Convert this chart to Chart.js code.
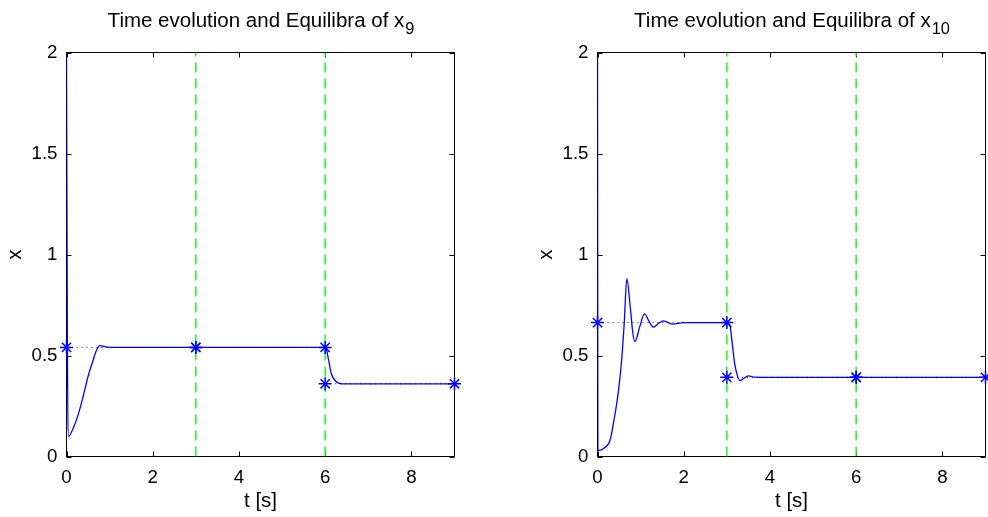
<!DOCTYPE html>
<html>
<head>
<meta charset="utf-8">
<script src="https://cdn.jsdelivr.net/npm/chart.js@4.4.0/dist/chart.umd.min.js"></script>
<style>
  html, body { margin: 0; padding: 0; background: #fff; overflow: hidden; }
  #wrap { position: relative; width: 988px; height: 517px; overflow: hidden; }
  canvas { position: absolute; top: 0; }
</style>
</head>
<body>
<div id="wrap">
  <canvas id="c9" width="531" height="517" style="left:0px"></canvas>
  <canvas id="c10" width="531" height="517" style="left:531px"></canvas>
</div>
<script>
// axis ticks
const xTicks = [0, 2, 4, 6, 8];
const yTicks = [0, 0.5, 1, 1.5, 2];

// switching instants and equilibrium segments
const switchTimes = [3, 6];
const segStart = [0, 3, 6];
const segEnd = [3, 6, 9];
const eqX9 = [0.54, 0.54, 0.36];
const eqX10 = [0.663, 0.392, 0.392];

// trajectories
const tX9 = [0, 0.02, 0.05, 0.155, 0.27, 0.386, 0.5, 0.62, 0.70, 0.775, 0.89, 1.05, 2, 3, 4, 5, 6,
             6.02, 6.08, 6.14, 6.24, 6.40, 7, 8, 9];
const vX9 = [2.0, 0.6, 0.10, 0.14, 0.206, 0.297, 0.396, 0.478, 0.528, 0.549, 0.544, 0.54, 0.54, 0.54, 0.54, 0.54, 0.54,
             0.536, 0.478, 0.412, 0.374, 0.36, 0.36, 0.36, 0.36];

const tX10 = [0, 0.01, 0.14, 0.295, 0.37, 0.49, 0.567, 0.62, 0.68, 0.76, 0.82, 0.87, 0.98, 1.09, 1.21, 1.30,
              1.42, 1.53, 1.75, 2.0, 2.5, 3.0, 3.07, 3.125, 3.18, 3.24, 3.30, 3.40, 3.51, 3.63, 4, 5, 6, 7, 8, 9];
const vX10 = [2.0, 0.03, 0.04, 0.083, 0.165, 0.33, 0.495, 0.66, 0.88, 0.74, 0.61, 0.569, 0.643, 0.706, 0.663, 0.64,
              0.66, 0.671, 0.655, 0.663, 0.663, 0.663, 0.651, 0.561, 0.462, 0.404, 0.376, 0.388, 0.399, 0.393, 0.392, 0.392, 0.392, 0.392, 0.392, 0.392];

Chart.defaults.font.family = '"Liberation Sans", Arial, Helvetica, sans-serif';
Chart.defaults.color = '#000';

const FONT_TICK = 18.7;
const FONT_LABEL = 20.5;

// box round the axes with inward ticks, like matlab (drawn under the data)
const boxPlugin = {
    id: 'matlabBox',
    beforeDatasetsDraw(chart) {
        const {ctx, chartArea: a, scales} = chart;
        ctx.save();
        ctx.strokeStyle = '#000';
        ctx.lineWidth = 1;
        ctx.strokeRect(a.left, a.top, a.right - a.left, a.bottom - a.top);
        ctx.beginPath();
        xTicks.forEach(v => {
            const px = Math.round(scales.x.getPixelForValue(v)) + 0.5;
            ctx.moveTo(px, a.bottom); ctx.lineTo(px, a.bottom - 5);
            ctx.moveTo(px, a.top); ctx.lineTo(px, a.top + 5);
        });
        yTicks.forEach(v => {
            const py = Math.round(scales.y.getPixelForValue(v)) + 0.5;
            ctx.moveTo(a.left, py); ctx.lineTo(a.left + 5, py);
            ctx.moveTo(a.right, py); ctx.lineTo(a.right - 5, py);
        });
        ctx.stroke();
        ctx.restore();
    }
};

// title with a subscript
const titlePlugin = {
    id: 'subTitle',
    afterDraw(chart, args, opts) {
        const {ctx, chartArea: a} = chart;
        ctx.save();
        ctx.fillStyle = '#000';
        ctx.textBaseline = 'alphabetic';
        const mainFont = FONT_LABEL + 'px "Liberation Sans", Arial, sans-serif';
        const subFont = (FONT_LABEL * 0.8) + 'px "Liberation Sans", Arial, sans-serif';
        ctx.font = mainFont;
        const w1 = ctx.measureText(opts.text).width;
        ctx.font = subFont;
        const w2 = ctx.measureText(opts.sub).width;
        const x0 = (a.left + a.right) / 2 - (w1 + w2) / 2;
        ctx.font = mainFont;
        ctx.fillText(opts.text, x0, 27);
        ctx.font = subFont;
        ctx.fillText(opts.sub, x0 + w1 + 1, 34);
        ctx.restore();
    }
};

function makeChart(id, tArr, vArr, eqArr, sub) {
    const W = document.getElementById(id).width;
    const datasets = [];

    switchTimes.forEach(ts => {
        datasets.push({
            data: [{x: ts, y: 0}, {x: ts, y: 2}],
            borderColor: '#00ff00',
            backgroundColor: '#00ff00',
            borderWidth: 1.4,
            borderDash: [10, 6],
            pointRadius: 0,
            order: 5
        });
    });

    segStart.forEach((s, i) => {
        datasets.push({
            data: [{x: s, y: eqArr[i]}, {x: segEnd[i], y: eqArr[i]}],
            borderColor: '#0000ff',
            backgroundColor: '#0000ff',
            borderWidth: 1,
            borderDash: [1, 4],
            pointRadius: 0,
            order: 4
        });
    });

    const stars = [];
    segStart.forEach((s, i) => {
        stars.push({x: s, y: eqArr[i]});
        stars.push({x: segEnd[i], y: eqArr[i]});
    });
    datasets.push({
        data: stars,
        showLine: false,
        pointStyle: 'star',
        pointRadius: 6.5,
        borderColor: '#0000ff',
        backgroundColor: '#0000ff',
        pointBorderColor: '#0000ff',
        pointBorderWidth: 1.5,
        clip: false,
        order: 2
    });

    datasets.push({
        data: tArr.map((t, i) => ({x: t, y: vArr[i]})),
        borderColor: '#0000ff',
        backgroundColor: '#0000ff',
        borderWidth: 1.3,
        pointRadius: 0,
        cubicInterpolationMode: 'monotone',
        order: 1
    });

    return new Chart(document.getElementById(id), {
        type: 'line',
        data: {datasets},
        options: {
            responsive: false,
            animation: false,
            events: [],
            layout: {padding: {left: 0, top: 52.5, right: W - 454.5, bottom: 0}},
            scales: {
                x: {
                    type: 'linear', min: 0, max: 9,
                    afterFit: s => { s.height = 60.5; },
                    afterBuildTicks: s => { s.ticks = xTicks.map(v => ({value: v})); },
                    grid: {display: false, drawTicks: false},
                    border: {display: false},
                    ticks: {font: {size: FONT_TICK}, padding: 10, maxRotation: 0},
                    title: {display: true, text: 't [s]', font: {size: FONT_LABEL}, padding: {top: 0, bottom: 3}}
                },
                y: {
                    type: 'linear', min: 0, max: 2,
                    afterFit: s => { s.width = 66.5; },
                    afterBuildTicks: s => { s.ticks = yTicks.map(v => ({value: v})); },
                    grid: {display: false, drawTicks: false},
                    border: {display: false},
                    ticks: {font: {size: FONT_TICK}, padding: 9, callback: v => String(v)},
                    title: {display: true, text: 'x', font: {size: FONT_LABEL}, padding: {top: 3.5, bottom: 0}}
                }
            },
            plugins: {
                legend: {display: false},
                tooltip: {enabled: false},
                subTitle: {text: 'Time evolution and Equilibra of x', sub: sub}
            }
        },
        plugins: [boxPlugin, titlePlugin]
    });
}

makeChart('c9', tX9, vX9, eqX9, '9');
makeChart('c10', tX10, vX10, eqX10, '10');
</script>
</body>
</html>
